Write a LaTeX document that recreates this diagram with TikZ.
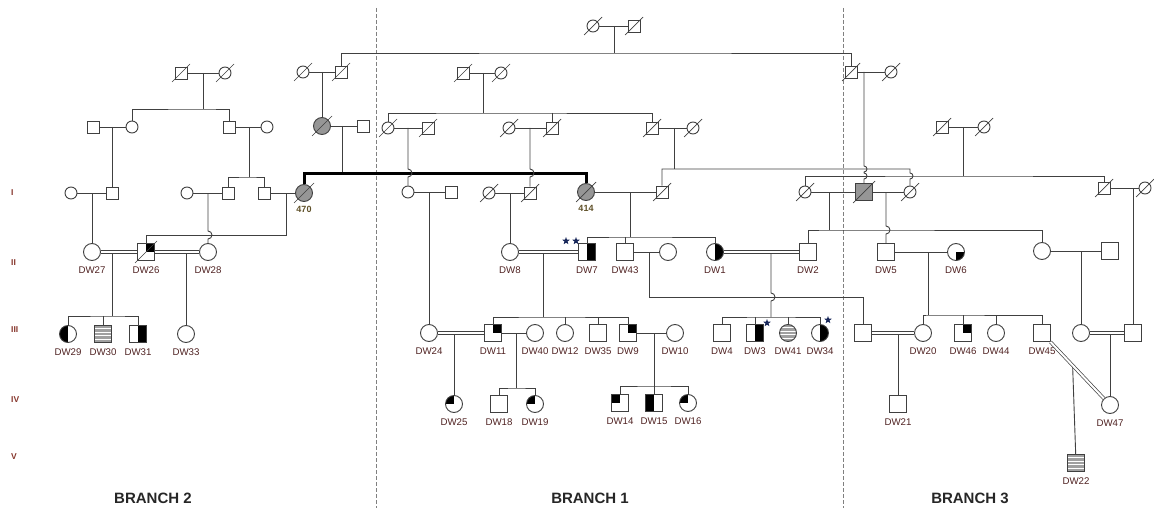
\documentclass[tikz,border=0pt]{standalone}
\usepackage{fontspec}
\setmainfont{Liberation Sans}
\usepackage{tikz}
\usetikzlibrary{shapes.geometric,positioning,calc}

\definecolor{lc}{RGB}{64,64,64}
\definecolor{shade}{RGB}{150,150,150}
\definecolor{stripe}{RGB}{160,160,160}
\definecolor{labc}{RGB}{80,35,35}
\definecolor{numc}{RGB}{95,80,40}
\definecolor{genc}{RGB}{135,55,45}
\definecolor{starc}{RGB}{25,40,90}

\newcommand{\deceased}[2][9]{\draw[lc, line width=0.7pt] ([shift={(-#1,#1)}]#2.center) -- ([shift={(#1,-#1)}]#2.center);}

\begin{document}
\begin{tikzpicture}[
  x=1pt, y=-1pt,
  line/.style={draw=lc, line width=0.9pt},
  sq/.style={rectangle, draw=lc, line width=0.9pt, fill=white, minimum size=17pt, inner sep=0pt},
  ci/.style={circle, draw=lc, line width=0.9pt, fill=white, minimum size=17pt, inner sep=0pt},
  ssq/.style={sq, minimum size=12pt},
  sci/.style={ci, minimum size=12pt},
  shd/.style={fill=shade},
  rhalf/.style={path picture={\fill[black] (path picture bounding box.north) rectangle (path picture bounding box.south east);}},
  lhalf/.style={path picture={\fill[black] (path picture bounding box.north west) rectangle (path picture bounding box.south);}},
  urq/.style={path picture={\fill[black] (path picture bounding box.center) rectangle (path picture bounding box.north east);}},
  ulq/.style={path picture={\fill[black] (path picture bounding box.center) rectangle (path picture bounding box.north west);}},
  lrq/.style={path picture={\fill[black] (path picture bounding box.center) rectangle (path picture bounding box.south east);}},
  stripes/.style={fill=stripe, path picture={\foreach \k in {1,...,4} \draw[white, line width=0.9pt] ($(path picture bounding box.north west)!\k/5!(path picture bounding box.south west)$) -- ++(20,0);}},
  dbl/.style={draw=lc, double=white, double distance=2pt, line width=0.7pt},
  thickln/.style={draw=black, line width=3pt},
  hop/.style={insert path={arc[start angle=-90, end angle=90, radius=#1]}},
  hop/.default=4,
  lab/.style={font=\fontsize{9.7}{9.7}\selectfont, text=labc, inner sep=0pt, text height=7pt, text depth=0pt},
  num/.style={font=\fontsize{9}{9}\selectfont\bfseries, text=numc, inner sep=0pt, text height=6.5pt, text depth=0pt},
  gen/.style={font=\fontsize{8.5}{8.5}\selectfont\bfseries, text=genc, anchor=west, inner sep=0pt},
  branch/.style={font=\fontsize{15}{15}\selectfont\bfseries, text=black!85},
  sepline/.style={draw=gray, line width=0.8pt, dash pattern=on 4pt off 2pt},
  starn/.style={star, star points=5, star point ratio=2.4, fill=starc, minimum size=8pt, inner sep=0pt}
]
\useasboundingbox (0,0) rectangle (1154,508);

\coordinate (sepAt) at (376,8);
\coordinate (sepAb) at (376,508);
\coordinate (sepBt) at (843,8);
\coordinate (sepBb) at (843,508);
\draw[sepline] (sepAt) -- (sepAb);
\draw[sepline] (sepBt) -- (sepBb);

\node[gen] (gI) at (11,193) {I};
\node[gen] (gII) at (11,263) {II};
\node[gen] (gIII) at (11,330) {III};
\node[gen] (gIV) at (11,400) {IV};
\node[gen] (gV) at (11,457) {V};
\node[branch] (br2) at (153,498) {BRANCH 2};
\node[branch] (br1) at (590,498) {BRANCH 1};
\node[branch] (br3) at (970,498) {BRANCH 3};

\node[sci] (tf) at (593,26) {};
\node[ssq] (tm) at (634,26) {};
\node[sci] (a1f) at (303,72) {};
\node[ssq] (a1m) at (341,72) {};
\node[ssq] (b3m) at (851,72) {};
\node[sci] (b3f) at (891,72) {};
\node[ssq] (b2gm) at (181,73) {};
\node[sci] (b2gf) at (225,73) {};
\node[ssq] (c0m) at (463,73) {};
\node[sci] (c0f) at (501,73) {};
\deceased{tf} \deceased{tm} \deceased{a1f} \deceased{a1m} \deceased{b3m} \deceased{b3f}
\deceased{b2gm} \deceased{b2gf} \deceased{c0m} \deceased{c0f}

\node[ssq] (b2ah) at (93,127) {};
\node[sci] (b2a) at (132,127) {};
\node[ssq] (b2b) at (229,127) {};
\node[sci] (b2bw) at (267,127) {};
\node[ci, shd] (a2f) at (322,126) {};
\node[ssq] (a2m) at (363,126) {};
\node[sci] (c1f) at (388,128) {};
\node[ssq] (c1m) at (428,128) {};
\node[sci] (c1bf) at (509,128) {};
\node[ssq] (c1bm) at (552,128) {};
\node[ssq] (c1cm) at (652,128) {};
\node[sci] (c1cf) at (693,128) {};
\node[ssq] (b3gm) at (942,127) {};
\node[sci] (b3gf) at (984,127) {};
\deceased[10]{a2f} \deceased{c1f} \deceased{c1m} \deceased{c1bf} \deceased{c1bm}
\deceased{c1cm} \deceased{c1cf} \deceased{b3gm} \deceased{b3gf}

\node[sci] (b2c) at (71,193) {};
\node[ssq] (b2d) at (112,193) {};
\node[sci] (b2e) at (187,193) {};
\node[ssq] (b2f) at (228,193) {};
\node[ssq] (b2g) at (264,193) {};
\node[ci, shd] (n470) at (304,193) {};
\node[sci] (c2f) at (408,192) {};
\node[ssq] (c2m) at (451,192) {};
\node[sci] (c2bf) at (489,193) {};
\node[ssq] (c2bm) at (530,193) {};
\node[ci, shd] (n414) at (586,192) {};
\node[ssq] (c2cm) at (662,192) {};
\node[sci] (b3wf1) at (805,192) {};
\node[sq, shd] (b3x) at (864,192) {};
\node[sci] (b3wf2) at (910,192) {};
\node[ssq] (b3s) at (1104,188) {};
\node[sci] (b3sw) at (1145,188) {};
\deceased[10]{n470} \deceased[10]{n414} \deceased{c2bf} \deceased{c2bm} \deceased{c2cm}
\deceased{b3wf1} \deceased[11]{b3x} \deceased{b3wf2} \deceased{b3s} \deceased{b3sw}
\node[num, below=4pt of n470] (l470) {470};
\node[num, below=4pt of n414] (l414) {414};

\node[ci] (dw27) at (92,252) {};
\node[sq, urq] (dw26) at (146,252) {};
\node[ci] (dw28) at (208,252) {};
\deceased[11]{dw26}
\node[ci] (dw8) at (510,252) {};
\node[sq, rhalf] (dw7) at (587,252) {};
\node[sq] (dw43) at (625,252) {};
\node[ci] (dw43w) at (668,252) {};
\node[ci, rhalf] (dw1) at (715,252) {};
\node[sq] (dw2) at (808,252) {};
\node[sq] (dw5) at (886,252) {};
\node[ci, lrq] (dw6) at (956,252) {};
\node[ci] (b3k) at (1042,251) {};
\node[sq] (b3kh) at (1110,251) {};
\node[starn] (st7a) at (566,241) {};
\node[starn] (st7b) at (576,241) {};

\node[ci, lhalf] (dw29) at (68,334) {};
\node[sq, stripes] (dw30) at (103,334) {};
\node[sq, rhalf] (dw31) at (138,334) {};
\node[ci] (dw33) at (186,334) {};
\node[ci] (dw24) at (429,333) {};
\node[sq, urq] (dw11) at (493,333) {};
\node[ci] (dw40) at (535,333) {};
\node[ci] (dw12) at (565,333) {};
\node[sq] (dw35) at (598,333) {};
\node[sq, urq] (dw9) at (628,333) {};
\node[ci] (dw10) at (675,333) {};
\node[sq] (dw4) at (722,333) {};
\node[sq, rhalf] (dw3) at (755,333) {};
\node[ci, stripes] (dw41) at (788,333) {};
\node[ci, rhalf] (dw34) at (820,333) {};
\node[starn] (st3) at (767,323) {};
\node[starn] (st34) at (828,320) {};
\node[sq] (b3u) at (863,333) {};
\node[ci] (dw20) at (923,333) {};
\node[sq, urq] (dw46) at (963,333) {};
\node[ci] (dw44) at (996,333) {};
\node[sq] (dw45) at (1042,333) {};
\node[ci] (b3l) at (1081,333) {};
\node[sq] (b3n) at (1133,333) {};

\node[ci, ulq] (dw25) at (454,404) {};
\node[sq] (dw18) at (499,404) {};
\node[ci, ulq] (dw19) at (535,404) {};
\node[sq, ulq] (dw14) at (620,403) {};
\node[sq, lhalf] (dw15) at (654,403) {};
\node[ci, ulq] (dw16) at (688,403) {};
\node[sq] (dw21) at (898,404) {};
\node[ci] (dw47) at (1110,405) {};
\node[sq, stripes] (dw22) at (1076,463) {};

\foreach \n in {27,26,28,29,30,31,33,8,7,43,1,2,5,6,24,11,40,12,35,9,10,4,3,41,34,20,46,44,45,25,18,19,14,15,16,21,47,22}
  \node[lab, below=5pt of dw\n] (l\n) {DW\n};

\coordinate (mt) at (614,26);
\coordinate (st) at (614,53);
\draw[line] (tf) -- (tm);
\draw[line] (mt) -- (st);
\draw[line] (a1m) |- (st) -| (b3m);

\coordinate (m_b2g) at (203,73);
\coordinate (s_b2g) at (203,109);
\draw[line] (b2gm) -- (b2gf);
\draw[line] (m_b2g) -- (s_b2g);
\draw[line] (b2a) |- (s_b2g) -| (b2b);
\draw[line] (b2ah) -- (b2a);
\draw[line] (b2b) -- (b2bw);
\coordinate (m_b2a) at (112,127);
\draw[line] (m_b2a) -- (b2d);
\coordinate (m_b2b) at (249,127);
\coordinate (s_b2b) at (249,177);
\draw[line] (m_b2b) -- (s_b2b);
\draw[line] (b2f) |- (s_b2b) -| (b2g);
\draw[line] (b2c) -- (b2d);
\draw[line] (b2e) -- (b2f);
\draw[line] (b2g) -- (n470);
\coordinate (m_b2c) at (92,193);
\draw[line] (m_b2c) -- (dw27);
\coordinate (m_b2e) at (208,193);
\draw[line] (m_b2e) -- ++(0,38) [hop] -- (dw28);
\coordinate (m_470) at (286,193);
\draw[line] (m_470) -- ++(0,42) -| (dw26);
\coordinate (m_2726) at (112,252);
\coordinate (s_2726) at (112,316);
\draw[line] (m_2726) -- (s_2726);
\draw[line] (dw29) |- (s_2726) -| (dw31);
\draw[line] (s_2726 -| dw30) -- (dw30);
\coordinate (m_2628) at (186,252);
\draw[line] (m_2628) -- (dw33);
\draw[dbl] (dw27) -- (dw26);
\draw[dbl] (dw26) -- (dw28);

\coordinate (m_a1) at (322,72);
\draw[line] (a1f) -- (a1m);
\draw[line] (m_a1) -- (a2f);
\draw[line] (a2f) -- (a2m);
\coordinate (m_a2) at (342,126);
\coordinate (s_a2) at (342,173);
\draw[line] (m_a2) -- (s_a2);
\draw[thickln] (n470) |- (s_a2) -| (n414);

\coordinate (m_c0) at (483,73);
\coordinate (s_c0) at (483,113);
\draw[line] (c0m) -- (c0f);
\draw[line] (m_c0) -- (s_c0);
\draw[line] (c1f) |- (s_c0) -| (c1cm);
\draw[line] (s_c0 -| c1bm) -- (c1bm);
\draw[line] (c1f) -- (c1m);
\draw[line] (c1bf) -- (c1bm);
\draw[line] (c1cm) -- (c1cf);
\coordinate (m_c1) at (408,128);
\draw[line] (m_c1) -- ++(0,41) [hop] -- (c2f);
\draw[line] (c2f) -- (c2m);
\coordinate (m_c1b) at (530,128);
\draw[line] (m_c1b) -- ++(0,41) [hop] -- (c2bm);
\draw[line] (c2bf) -- (c2bm);
\coordinate (m_c2) at (429,192);
\draw[line] (m_c2) -- (dw24);
\coordinate (m_c2b) at (510,193);
\draw[line] (m_c2b) -- (dw8);
\coordinate (m_c1c) at (674,128);
\coordinate (s_c1c) at (674,169);
\draw[line] (m_c1c) -- (s_c1c);
\draw[line] (c2cm) |- (s_c1c) -- (s_c1c -| b3wf2) -- ++(0,4) [hop=3] -- (b3wf2);
\draw[line] (n414) -- (c2cm);
\coordinate (m_414) at (630,192);
\coordinate (s_414) at (630,237);
\draw[line] (m_414) -- (s_414);
\draw[line] (dw7) |- (s_414) -| (dw1);
\draw[line] (s_414 -| dw43) -- (dw43);
\draw[line] (dw43) -- (dw43w);
\coordinate (m_43) at (649,252);
\draw[line] (m_43) -- ++(0,45) -| (b3u);

\coordinate (m_87) at (543,252);
\coordinate (s_87) at (543,317);
\draw[line] (m_87) -- (s_87);
\draw[line] (dw11) |- (s_87) -| (dw9);
\draw[line] (s_87 -| dw12) -- (dw12);
\draw[line] (s_87 -| dw35) -- (dw35);
\draw[line] (dw11) -- (dw40);
\draw[line] (dw9) -- (dw10);
\coordinate (m_12) at (771,252);
\coordinate (s_12) at (771,317);
\draw[line] (m_12) -- ++(0,41) [hop] -- (s_12);
\draw[line] (dw4) |- (s_12) -| (dw34);
\draw[line] (s_12 -| dw3) -- (dw3);
\draw[line] (s_12 -| dw41) -- (dw41);
\coordinate (m_2411) at (454,333);
\draw[line] (m_2411) -- (dw25);
\coordinate (m_1140) at (516,333);
\coordinate (s_1140) at (516,388);
\draw[line] (m_1140) -- (s_1140);
\draw[line] (dw18) |- (s_1140) -| (dw19);
\coordinate (m_910) at (654,333);
\coordinate (s_910) at (654,386);
\draw[line] (m_910) -- (s_910);
\draw[line] (dw14) |- (s_910) -| (dw16);
\draw[line] (s_910) -- (dw15);
\draw[dbl] (dw8) -- (dw7);
\draw[dbl] (dw1) -- (dw2);
\draw[dbl] (dw24) -- (dw11);

\coordinate (m_b3) at (864,72);
\draw[line] (b3m) -- (b3f);
\draw[line] (m_b3) -- ++(0,94) [hop=3] -- ++(0,1) [hop=3] -- (b3x);
\coordinate (m_b3g) at (963,127);
\coordinate (s_b3g) at (963,176);
\draw[line] (b3gm) -- (b3gf);
\draw[line] (m_b3g) -- (s_b3g);
\draw[line] (b3wf1) |- (s_b3g) -| (b3s);
\draw[line] (b3s) -- (b3sw);
\draw[line] (b3wf1) -- (b3x);
\draw[line] (b3x) -- (b3wf2);
\coordinate (m_b3a) at (829,192);
\coordinate (s_b3a) at (829,230);
\draw[line] (m_b3a) -- (s_b3a);
\draw[line] (dw2) |- (s_b3a) -| (b3k);
\coordinate (m_b3b) at (886,192);
\draw[line] (m_b3b) -- ++(0,34) [hop] -- (dw5);
\draw[line] (dw5) -- (dw6);
\draw[line] (b3k) -- (b3kh);
\coordinate (m_56) at (928,252);
\coordinate (s_56) at (928,315);
\draw[line] (m_56) -- (s_56);
\draw[line] (dw20) |- (s_56) -| (dw45);
\draw[line] (s_56 -| dw46) -- (dw46);
\draw[line] (s_56 -| dw44) -- (dw44);
\coordinate (m_u20) at (898,333);
\draw[line] (m_u20) -- (dw21);
\coordinate (m_k) at (1081,251);
\draw[line] (m_k) -- (b3l);
\coordinate (m_b3s) at (1133,188);
\draw[line] (m_b3s) -- (b3n);
\coordinate (m_ln) at (1110,333);
\draw[line] (m_ln) -- (dw47);
\coordinate (m_4547) at ($(dw45)!0.45!(dw47)$);
\draw[line] (m_4547) -- (dw22);
\draw[dbl] (b3u) -- (dw20);
\draw[dbl] (b3l) -- (b3n);
\draw[dbl] (dw45) -- (dw47);
\end{tikzpicture}
\end{document}
